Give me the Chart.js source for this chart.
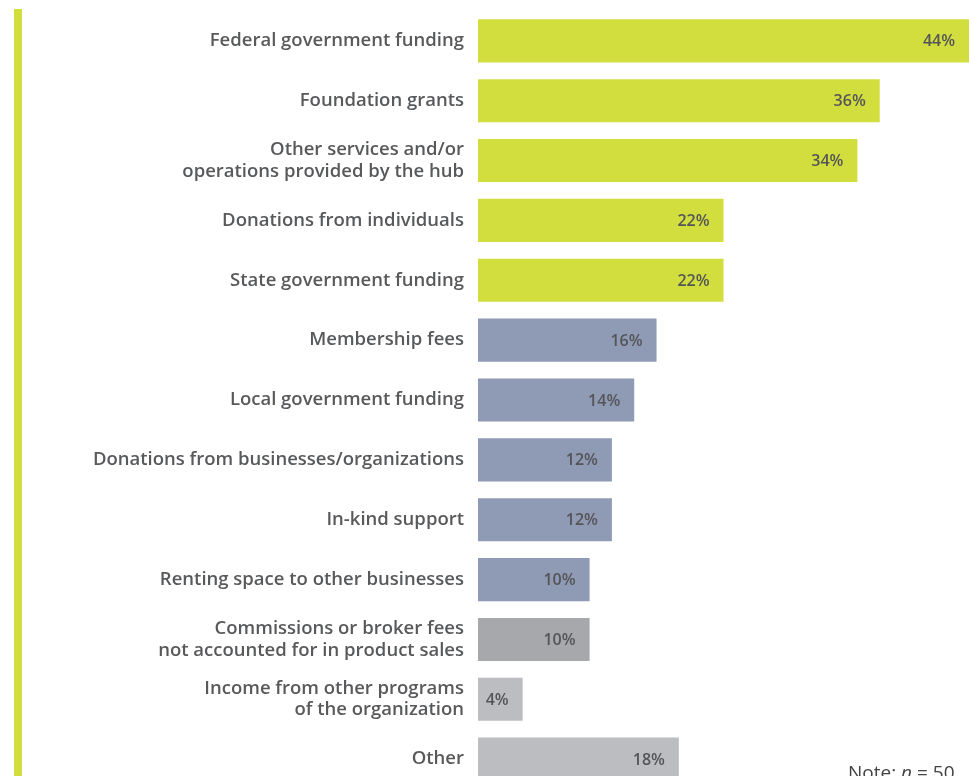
<!DOCTYPE html>
<html lang="en">
<head>
  <meta charset="UTF-8">
  <title>Hub Revenue Sources</title>
  <script src="https://cdn.jsdelivr.net/npm/chart.js"></script>
  <style>
    html, body { margin: 0; padding: 0; background: #fff; overflow: hidden; }
    body { width: 969px; height: 776px; position: relative; font-family: "Open Sans", Arial, sans-serif; }
    .rule { position: absolute; left: 14px; top: 9px; width: 8px; height: 800px; background: #d2de3d; }
    /* the scale pads the chart area by ~25px top and bottom, so the canvas is shifted up */
    .wrap { position: absolute; left: 0; top: -14px; width: 969px; height: 828px; }
    .note { position: absolute; left: 848px; top: 759px; font-size: 19px; color: #444; white-space: nowrap; }
  </style>
</head>
<body>
  <div class="rule"></div>
  <div class="wrap"><canvas id="revenueChart"></canvas></div>
  <div class="note">Note: <i>n</i> = 50</div>

  <script>
    const labels = [
      'Federal government funding',
      'Foundation grants',
      ['Other services and/or', 'operations provided by the hub'],
      'Donations from individuals',
      'State government funding',
      'Membership fees',
      'Local government funding',
      'Donations from businesses/organizations',
      'In-kind support',
      'Renting space to other businesses',
      ['Commissions or broker fees', 'not accounted for in product sales'],
      ['Income from other programs', 'of the organization'],
      'Other'
    ];
    const values = [44, 36, 34, 22, 22, 16, 14, 12, 12, 10, 10, 4, 18];
    const colors = [
      '#d2de3d', '#d2de3d', '#d2de3d', '#d2de3d', '#d2de3d',
      '#8f9ab5', '#8f9ab5', '#8f9ab5', '#8f9ab5', '#8f9ab5',
      '#a7a8ab', '#bcbdc0', '#bcbdc0'
    ];

    // percentage text drawn inside the end of each bar
    const valueLabels = {
      id: 'valueLabels',
      afterDatasetsDraw(chart) {
        const ctx = chart.ctx;
        const meta = chart.getDatasetMeta(0);
        ctx.save();
        ctx.font = '600 16px "Open Sans", Arial, sans-serif';
        ctx.fillStyle = '#555558';
        ctx.textAlign = 'right';
        ctx.textBaseline = 'middle';
        meta.data.forEach((bar, i) => {
          ctx.fillText(values[i] + '%', bar.x - 14, bar.y + 1);
        });
        ctx.restore();
      }
    };

    new Chart(document.getElementById('revenueChart'), {
      type: 'bar',
      data: {
        labels: labels,
        datasets: [{
          data: values,
          backgroundColor: colors,
          borderWidth: 0,
          barPercentage: 0.72,
          categoryPercentage: 1
        }]
      },
      options: {
        indexAxis: 'y',
        responsive: true,
        maintainAspectRatio: false,
        animation: false,
        layout: { padding: 0 },
        plugins: { legend: { display: false }, tooltip: { enabled: false } },
        scales: {
          x: {
            display: false,
            min: 0,
            max: 44
          },
          y: {
            grid: { display: false, drawTicks: false },
            border: { display: false },
            afterFit(scale) { scale.width = 478; },
            ticks: {
              padding: 14,
              color: '#58595b',
              font: { family: '"Open Sans", Arial, sans-serif', size: 18.5, weight: 600, lineHeight: 1.18 }
            }
          }
        }
      },
      plugins: [valueLabels]
    });
  </script>
</body>
</html>
